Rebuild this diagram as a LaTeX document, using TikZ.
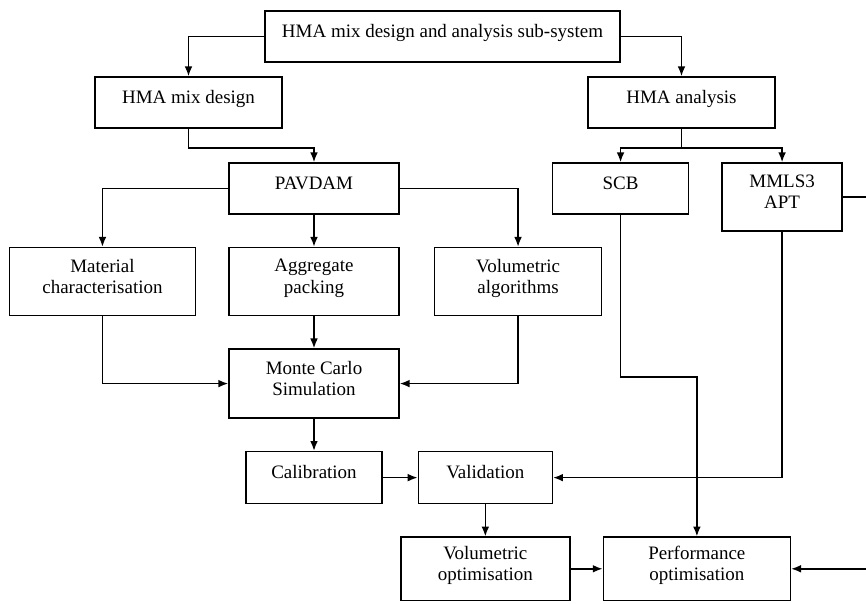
\documentclass[tikz,border=0pt]{standalone}
\usepackage{fontspec}
\setmainfont{Liberation Serif}
\usepackage{tikz}
\usetikzlibrary{positioning,arrows.meta}
\tikzset{>={Latex[length=7pt,width=5.5pt]}}

\begin{document}
\begin{tikzpicture}[
node distance=0.8cm,
line width=1.1pt,
every node/.style={font=\fontsize{13.5}{15}\selectfont},
squarednode/.style={rectangle, draw=black, align=center, text depth=7.5pt, minimum height=1.275cm},
tallnode/.style={squarednode, minimum height=1.7cm},
]
\useasboundingbox (0,0) rectangle (21.65,-15.1);
%Nodes
\node[squarednode, minimum width=8.875cm](HMA sub-system) at (11.0625,-0.9125){HMA mix design and analysis sub-system};
\node[squarednode, minimum width=4.675cm](HMA mix design) at (4.7125,-2.5625){HMA mix design};
\node[squarednode, minimum width=4.675cm](HMA analysis) at (17.0375,-2.5625){HMA analysis};

\node[squarednode, minimum width=4.25cm](PAVDAM) at (7.85,-4.7125){PAVDAM};
\node[squarednode, minimum width=3.4cm](SCB)[right=3.8cm of PAVDAM]{SCB};
\node[tallnode, minimum width=3cm](MMLS3)[right=of SCB.north east, anchor=north west]{MMLS3\\APT};

\node[tallnode, minimum width=4.25cm](Aggregate packing)[below=of PAVDAM]{Aggregate\\packing};
\node[tallnode, minimum width=4.65cm](Material characterisation)[left=of Aggregate packing]{Material\\characterisation};
\node[tallnode, minimum width=4.175cm](Volumetric algorithms)[right=0.85cm of Aggregate packing]{Volumetric\\algorithms};

\node[tallnode, minimum width=4.25cm, minimum height=1.725cm](Monte Carlo Simulation)[below=of Aggregate packing]{Monte Carlo\\Simulation};
\node[squarednode, minimum width=3.4cm, minimum height=1.3cm](Calibration)[below=of Monte Carlo Simulation]{Calibration};
\node[squarednode, minimum width=3.35cm, minimum height=1.3cm](Validation)[right=0.87cm of Calibration]{Validation};

\node[tallnode, minimum width=4.225cm, minimum height=1.58cm](Volumetric optimisation)[below=of Validation]{Volumetric\\optimisation};
\node[tallnode, minimum width=4.675cm, minimum height=1.58cm](Performance optimisation)[right=of Volumetric optimisation]{Performance\\optimisation};

%Lines
\draw[->] (HMA sub-system.west) -| (HMA mix design.north);
\draw[->] (HMA sub-system.east) -| (HMA analysis.north);

\draw[->] (HMA mix design.south) -- ++(0,-0.475) -| (PAVDAM.north);
\draw (HMA analysis.south) -- ++(0,-0.475) coordinate (analysis split);
\draw[->] (analysis split) -| (SCB.north);
\draw[->] (analysis split) -| (MMLS3.north);

\draw[->] (PAVDAM.west) -| (Material characterisation.north);
\draw[->] (PAVDAM) -- (Aggregate packing);
\draw[->] (PAVDAM.east) -| (Volumetric algorithms.north);

\draw[->] (Material characterisation.south) |- (Monte Carlo Simulation.west);
\draw[->] (Aggregate packing) -- (Monte Carlo Simulation);
\draw[->] (Volumetric algorithms.south) |- (Monte Carlo Simulation.east);

\draw[->] (Monte Carlo Simulation) -- (Calibration);
\draw[->] (Calibration) -- (Validation);
\draw[->] (Validation) -- (Volumetric optimisation);
\draw[->] (Volumetric optimisation) -- (Performance optimisation);

\draw[->] (SCB.south) -- ++(0,-4.05) -| (Performance optimisation.north);
\draw[->] (MMLS3.south) |- (Validation.east);
\draw[->] (MMLS3.east) -- ++(1,0) |- (Performance optimisation.east);
\end{tikzpicture}
\end{document}
